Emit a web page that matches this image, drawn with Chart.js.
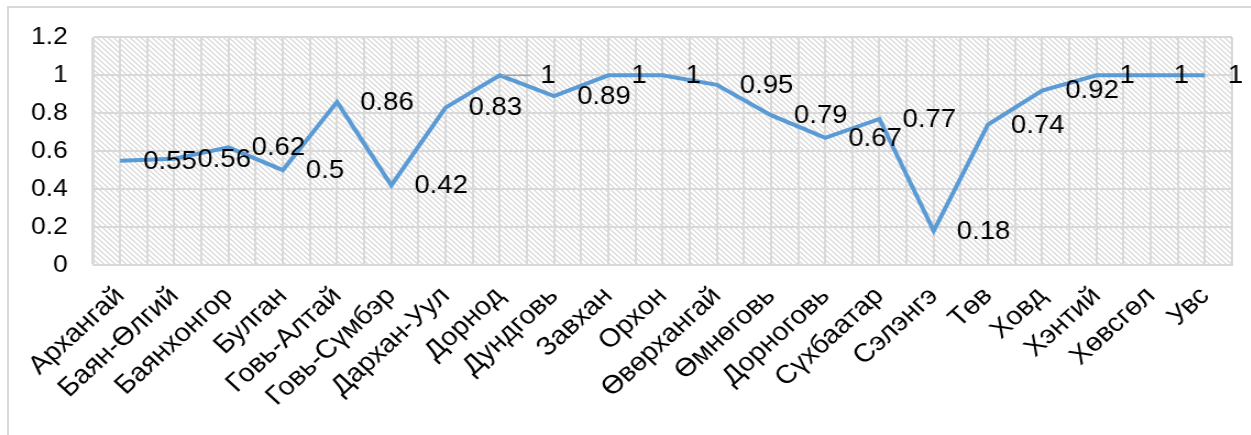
<!DOCTYPE html>
<html>
<head>
<meta charset="utf-8">
<script src="https://cdn.jsdelivr.net/npm/chart.js@4/dist/chart.umd.min.js"></script>
<style>
  html, body { margin: 0; padding: 0; background: #ffffff; }
  #wrap { position: relative; width: 1251px; height: 435px; overflow: hidden; }
  #frame { position: absolute; left: 7px; top: 6px; right: -4px; bottom: -4px;
           border-left: 2px solid #d9d9d9; border-top: 2px solid #d9d9d9; }
  /* the drawing is laid out narrower and widened to the full frame */
  #stage { position: absolute; left: 0; top: 0; width: 1137px; height: 435px;
           transform: scaleX(1.1); transform-origin: 0 0; }
  canvas { position: absolute; left: 0; top: 0; }
</style>
</head>
<body>
<div id="wrap">
  <div id="frame"></div>
  <div id="stage"><canvas id="c" width="1137" height="435"></canvas></div>
</div>
<script>
// Aimags (provinces) and their index values
const categories = [
  'Архангай', 'Баян-Өлгий', 'Баянхонгор', 'Булган', 'Говь-Алтай', 'Говь-Сүмбэр',
  'Дархан-Уул', 'Дорнод', 'Дундговь', 'Завхан', 'Орхон', 'Өвөрхангай', 'Өмнөговь',
  'Дорноговь', 'Сүхбаатар', 'Сэлэнгэ', 'Төв', 'Ховд', 'Хэнтий', 'Хөвсгөл', 'Увс'
];
const values = [
  0.55, 0.56, 0.62, 0.5, 0.86, 0.42,
  0.83, 1, 0.89, 1, 1, 0.95, 0.79,
  0.67, 0.77, 0.18, 0.74, 0.92, 1, 1, 1
];
const yTicks = ['0', '0.2', '0.4', '0.6', '0.8', '1', '1.2'];

const FONT = '"Liberation Sans", Arial, sans-serif';

// Diagonal hatch used to fill the plot area
function makeHatch(ctx) {
  const n = 5;
  const t = document.createElement('canvas');
  t.width = n; t.height = n;
  const g = t.getContext('2d');
  g.fillStyle = '#ffffff';
  g.fillRect(0, 0, n, n);
  g.fillStyle = '#dedede';
  for (let i = 0; i < n; i++) {
    g.fillRect(i, i, 1, 1);
    g.fillRect((i + 1) % n, i, 1, 1);
  }
  return ctx.createPattern(t, 'repeat');
}

const hatchBackground = {
  id: 'hatchBackground',
  beforeDraw(chart) {
    const { ctx, chartArea: a } = chart;
    ctx.save();
    ctx.fillStyle = makeHatch(ctx);
    ctx.fillRect(a.left, a.top, a.right - a.left, a.bottom - a.top);
    ctx.restore();
  }
};

// Value labels to the right of each point; one label is pulled aside with a leader line
const leaderFor = { 7: true };
const valueLabels = {
  id: 'valueLabels',
  afterDatasetsDraw(chart) {
    const { ctx } = chart;
    const meta = chart.getDatasetMeta(0);
    ctx.save();
    ctx.font = '25px ' + FONT;
    ctx.fillStyle = '#000000';
    ctx.textAlign = 'left';
    ctx.textBaseline = 'middle';
    meta.data.forEach((pt, i) => {
      const text = String(values[i]);
      if (leaderFor[i]) {
        ctx.strokeStyle = '#a6a6a6';
        ctx.lineWidth = 1.5;
        ctx.beginPath();
        ctx.moveTo(pt.x + 2, pt.y);
        ctx.lineTo(pt.x + 28, pt.y);
        ctx.stroke();
        ctx.fillText(text, pt.x + 37, pt.y + 1);
      } else {
        ctx.fillText(text, pt.x + 21, pt.y + 1);
      }
    });
    ctx.restore();
  }
};

new Chart(document.getElementById('c'), {
  type: 'line',
  data: {
    labels: categories,
    datasets: [{
      data: values,
      borderColor: '#5b9bd5',
      borderWidth: 4,
      pointRadius: 0,
      tension: 0,
      fill: false
    }]
  },
  options: {
    responsive: false,
    animation: false,
    events: [],
    layout: { padding: { left: 0, top: 37, right: 17, bottom: 0 } },
    plugins: { legend: { display: false }, tooltip: { enabled: false } },
    scales: {
      x: {
        type: 'category',
        offset: true,
        grid: { color: '#d9d9d9', lineWidth: 2, drawTicks: false, offset: true },
        border: { display: true, color: '#d9d9d9', width: 2 },
        ticks: {
          autoSkip: false, minRotation: 45, maxRotation: 45, padding: 16,
          color: '#000000', font: { family: FONT, size: 26 }
        },
        afterFit(s) { s.height = 170; }
      },
      xg: {
        type: 'linear',
        position: 'bottom',
        min: -0.5, max: 20.5,
        grid: { color: '#d9d9d9', lineWidth: 2, drawTicks: false },
        border: { display: false },
        ticks: { display: false, stepSize: 0.5 },
        afterFit(s) { s.height = 0; }
      },
      y: {
        min: 0, max: 1.2,
        grid: { color: '#d9d9d9', lineWidth: 2, drawTicks: false },
        border: { display: false },
        ticks: {
          stepSize: 0.2, padding: 23, color: '#000000',
          font: { family: FONT, size: 24 },
          callback: (v, i) => yTicks[i]
        },
        afterFit(s) { s.width = 84.5; }
      }
    }
  },
  plugins: [hatchBackground, valueLabels]
});
</script>
</body>
</html>
